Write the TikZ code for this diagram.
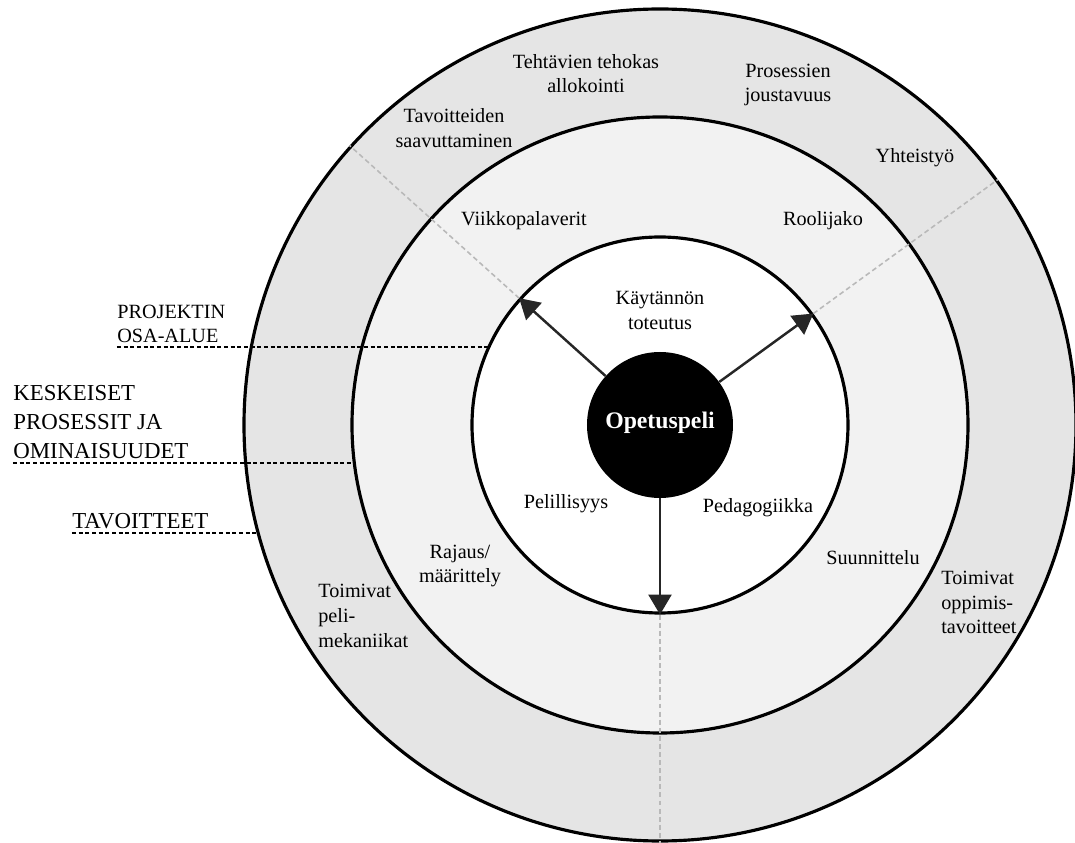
\documentclass[tikz,border=0pt]{standalone}
\usepackage{fontspec}
\setmainfont{Liberation Serif}
\usetikzlibrary{arrows.meta}

\tikzset{
  ring/.style={circle, draw=black, line width=1.8pt, inner sep=0pt},
  lbl/.style={font=\fontsize{11.5}{14}\selectfont, align=center, inner sep=0pt},
  sidelbl/.style={align=left, anchor=south west, inner xsep=0pt, inner ysep=2pt},
  guide/.style={line width=1pt, dash pattern=on 2.3pt off 1.5pt},
  spoke/.style={gray!55, line width=0.9pt, dash pattern=on 2.8pt off 1.8pt},
  pointer/.style={-{Triangle[length=4mm, width=4.6mm]}, line width=1.4pt, black!85}
}

\begin{document}
\begin{tikzpicture}
\useasboundingbox (-13.2,-8.36) rectangle (8.3,8.5);

% Rings
\node[ring, fill=gray!20, minimum size=16.64cm] (goals) at (0,0) {};
\node[ring, fill=gray!10, minimum size=12.32cm] (processes) at (0,0) {};
\node[ring, fill=white, minimum size=7.52cm] (areas) at (0,0) {};

% Spokes between the rings
\foreach \a in {138.5, 36, 270} {
  \draw[spoke] (areas.\a) -- (goals.\a);
}

% Core and arrows
\node[circle, fill=black, minimum size=2.92cm, inner sep=0pt] (game) at (0,0) {};
\foreach \a in {138.5, 36, 270} {
  \draw[pointer] (game.\a) -- (areas.\a);
}
\node[font=\fontsize{13.5}{16}\selectfont\bfseries, text=white, inner sep=0pt] (gamelbl) at (0,0.04) {Opetuspeli};

% Outer ring
\node[lbl] (allokointi) at (-1.48, 7.03) {Tehtävien tehokas\\allokointi};
\node[lbl] (joustavuus) at (2.56, 6.8) {Prosessien\\joustavuus};
\node[lbl] (saavutus) at (-4.12, 5.94) {Tavoitteiden\\saavuttaminen};
\node[lbl] (yhteistyo) at (5.1, 5.34) {Yhteistyö};
\node[lbl, align=left, anchor=west] (mekaniikat) at (-6.84, -3.82) {Toimivat\\peli-\\mekaniikat};
\node[lbl, align=left, anchor=west] (oppiminen) at (5.62, -3.55) {Toimivat\\oppimis-\\tavoitteet};

% Middle ring
\node[lbl] (viikko) at (-2.72, 4.08) {Viikkopalaverit};
\node[lbl] (roolit) at (3.26, 4.08) {Roolijako};
\node[lbl] (rajaus) at (-4.0, -2.82) {Rajaus/\\määrittely};
\node[lbl] (suunnittelu) at (4.26, -2.66) {Suunnittelu};

% Inner ring
\node[lbl] (toteutus) at (0, 2.29) {Käytännön\\toteutus};
\node[lbl] (pelillisyys) at (-1.88, -1.58) {Pelillisyys};
\node[lbl] (pedagogiikka) at (1.96, -1.66) {Pedagogiikka};

% Legend on the left
\node[sidelbl, font=\fontsize{11.5}{14}\selectfont] (arealbl) at (-10.86, 1.56) {PROJEKTIN\\OSA-ALUE};
\node[sidelbl, font=\fontsize{13}{16.5}\selectfont] (processlbl) at (-12.94, -0.76) {KESKEISET\\PROSESSIT JA\\OMINAISUUDET};
\node[sidelbl, font=\fontsize{13}{16.5}\selectfont] (goallbl) at (-11.76, -2.16) {TAVOITTEET};
\draw[guide] (arealbl.south west) -- (arealbl.south west -| areas.155.5);
\draw[guide] (processlbl.south west) -- (processlbl.south west -| processes.187.1);
\draw[guide] (goallbl.south west) -- (goallbl.south west -| goals.195);
\end{tikzpicture}
\end{document}
